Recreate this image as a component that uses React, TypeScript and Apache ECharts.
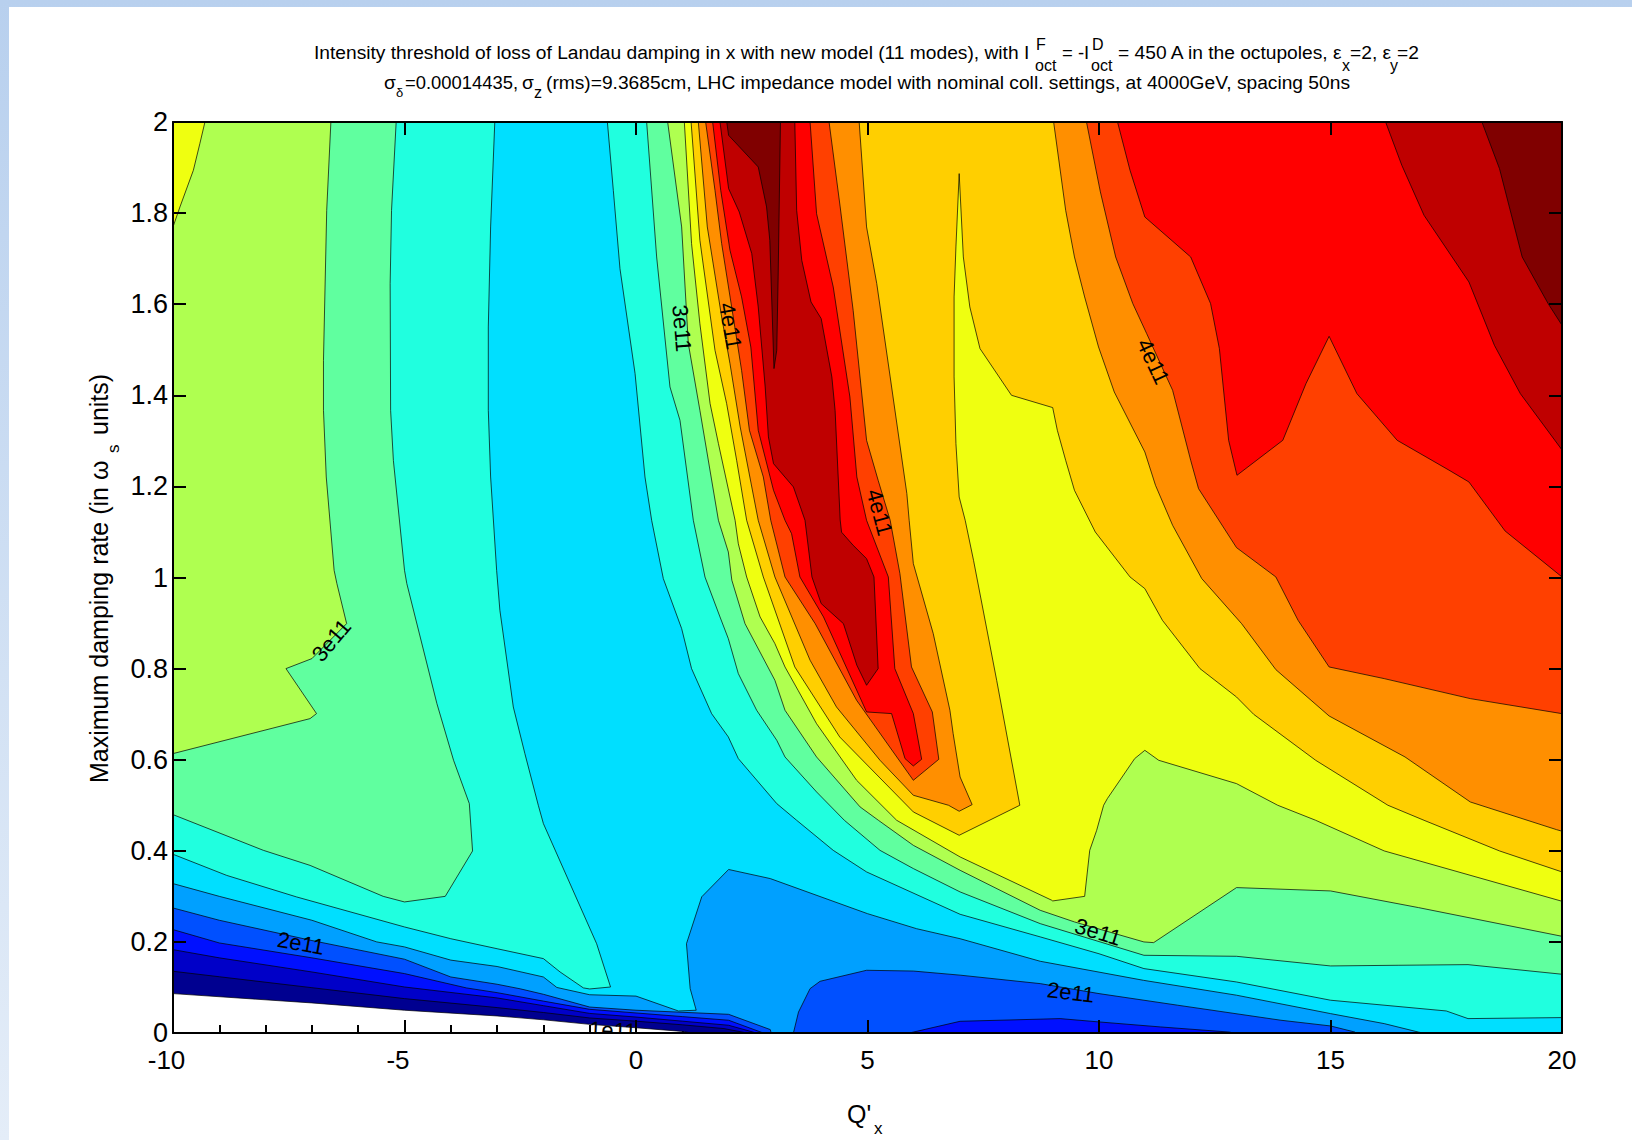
import React, { useEffect, useRef } from "react";
import * as echarts from "echarts";

// Contour outlines in data units [Q'x, maximum damping rate]; "level" = region at or above that contour.
const level01 = [[-10,.0865],[-7,.066],[-5,.05],[-3,.0374],[-2,.029],[-1,.019],[0,.0115],[1,.0035],[1.2,0],[20,0],[20,2],[-10,2]];
const level02 = [[-10,.1355],[-9,.1235],[-7,.0995],[-5,.0755],[-3,.0558],[-2,.045],[-1,.033],[0,.026],[1,.018],[1.9,.0097],[2.4,0],[20,0],[20,2],[-10,2]];
const level03 = [[-10,.183],[-9,.165],[-7,.134],[-5,.101],[-3,.077],[-2,.06],[-1,.043],[0,.035],[1,.026],[2,.017],[2.6,0],[20,0],[20,2],[-10,2]];
const level04 = [[-10,.227],[-9,.1977],[-7,.165],[-5,.1304],[-3.66,.0989],[-3,.0886],[-2,.07],[-1,.052],[0,.044],[1,.036],[2,.028],[2.75,0],[5.9,0],[5.99,.002],[7,.0257],[9.16,.0316],[10,.0243],[11.33,.0133],[12.82,.002],[12.9,0],[20,0],[20,2],[-10,2]];
const level05 = [[-10,.2745],[-9,.2475],[-7,.203],[-5,.162],[-4,.123],[-3,.107],[-2.5,.097],[-2,.085],[-1,.057],[0,.05],[2,.041],[2.9,.0075],[2.92,0],[3.4,0],[3.51,.046],[3.76,.0974],[3.975,.1135],[4.98,.1377],[5.99,.136],[7,.127],[8.73,.1084],[10,.0865],[11.7,.061],[13.93,.028],[15,.0155],[15.53,.002],[15.55,0],[20,0],[20,2],[-10,2]];
const level06 = [[-10,.328],[-9,.30],[-7,.2475],[-5.6,.2],[-5,.189],[-4,.16],[-3,.146],[-2,.123],[-1.71,.1],[-1,.084],[0,.081],[.915,.0484],[1.3,.05],[1.17,.0974],[1.09,.196],[1.42,.299],[2,.359],[2.9,.339],[5,.262],[6.06,.229],[7,.207],[8.73,.1575],[10.96,.1157],[12.97,.083],[15,.0426],[16.16,.0206],[16.9,.002],[17,0],[20,0],[20,2],[-10,2]];
const level07Left = [[-10,.3924],[-8.84,.346],[-7.33,.2987],[-5,.2328],[-4,.207],[-3,.185],[-2,.1633],[-1.64,.134],[-1.137,.099],[-1,.0967],[-.55,.101],[-.85,.196],[-2,.4597],[-2.11,.4999],[-2.4,.6134],[-2.65,.7158],[-2.94,.928],[-3.01,1.0158],[-3.14,1.2207],[-3.19,1.367],[-3.19,1.55],[-3.14,1.7696],[-3.05,2],[-10,2]];
const level07Right = [[-.618,2],[-.49,1.85],[-.346,1.678],[-.02,1.4476],[.194,1.2207],[.338,1.1256],[.59,.9975],[.986,.8878],[1.2,.8],[1.634,.701],[1.994,.65],[2.21,.6024],[3.04,.5036],[3.47,.467],[4.26,.401],[4.98,.3536],[7,.2606],[8.73,.211],[10,.174],[10.97,.1414],[12.97,.112],[15,.072],[17.5,.0484],[17.97,.0316],[20,.0338],[20,2]];
const level08Left = [[-10,.4794],[-8.05,.4011],[-7.04,.368],[-5.46,.3],[-5,.2877],[-4.12,.3],[-3.53,.3996],[-3.6,.5036],[-3.94,.5987],[-4.3,.7231],[-4.95,.9866],[-5,1.0158],[-5.24,1.257],[-5.3,1.367],[-5.31,1.645],[-5.28,1.806],[-5.18,2],[-10,2]];
const level08Right = [[.23,2],[.446,1.7037],[.734,1.4183],[.95,1.345],[1.238,1.1256],[1.49,1.001],[1.814,.9134],[1.994,.8658],[2.21,.789],[2.606,.7085],[3.04,.6426],[3.218,.606],[3.9,.5292],[4.5,.467],[5.27,.401],[5.99,.361],[7,.3097],[8.73,.2401],[10.97,.1706],[12.97,.1684],[15,.1472],[16.46,.1487],[17.97,.1501],[20,.129],[20,2]];
const level09Left = [[-10,.6134],[-7.04,.6902],[-6.9,.7012],[-7.56,.8],[-7,.8219],[-6.25,.8988],[-6.46,.9866],[-6.52,1.0158],[-6.69,1.2207],[-6.75,1.367],[-6.75,1.4768],[-6.68,1.806],[-6.59,2],[-10,2]];
const level09Right = [[.684,2],[.986,1.7696],[1.13,1.5134],[1.38,1.367],[1.78,1.1256],[1.994,1.056],[2.07,.994],[2.354,.8987],[3,.7743],[3.218,.7085],[3.9,.606],[4.84,.4963],[5.235,.467],[5.99,.412],[7,.3572],[8.73,.2694],[9.47,.2438],[10.97,.1999],[11.18,.1984],[12.97,.3192],[15,.3119],[16.9,.2753],[20,.2123],[20,2]];
const level10Corner = [[-10,1.7696],[-9.85,1.8135],[-9.56,1.894],[-9.42,1.9525],[-9.31,2],[-10,2]];
const level10Right = [[1.044,2],[1.2,1.733],[1.38,1.557],[1.6,1.3817],[1.78,1.294],[2.14,1.1256],[2.21,1.074],[2.39,1.001],[2.68,.9134],[3,.8548],[3.218,.8036],[3.5,.7524],[3.9,.679],[4.765,.5548],[5.63,.467],[7,.3865],[8.98,.2914],[9,.2899],[9.69,.3],[9.8,.4011],[9.95,.445],[10.1,.5],[10.18,.5145],[10.77,.6023],[10.99,.6206],[11.29,.5987],[12.97,.5475],[13.86,.5],[14.68,.467],[16.16,.3997],[20,.2892],[20,2]];
const level11 = [[1.19,2],[1.38,1.7403],[1.706,1.4988],[1.958,1.3817],[2.174,1.2573],[2.39,1.1256],[2.75,1.0012],[3.43,.8036],[4.4,.6499],[5.99,.4853],[6.98,.4341],[8.29,.5],[7.79,.7743],[7.29,1.0378],[7.11,1.1256],[6.98,1.1768],[6.91,1.294],[6.87,1.4403],[6.87,1.6159],[6.91,1.7257],[6.98,1.8867],[7.07,1.7037],[7.21,1.594],[7.43,1.5025],[8.11,1.4],[9,1.373],[9.1,1.3232],[9.28,1.2573],[9.47,1.1914],[9.92,1.0999],[10.67,1.0012],[10.99,.9756],[11.37,.906],[12.18,.8],[12.97,.7377],[13.34,.6997],[14.68,.5987],[16.24,.5],[17.02,.467],[18.65,.3997],[20,.3536],[20,2]];
const level12Center = [[1.346,2],[1.54,1.7696],[1.85,1.572],[2.03,1.4695],[2.25,1.3305],[2.64,1.1256],[3,1.0012],[3.76,.8183],[4.33,.7158],[5.27,.5987],[5.99,.5219],[6.75,.5],[6.98,.4868],[7.26,.5014],[7,.562],[6.85,.6572],[6.78,.7085],[6.42,.8768],[5.99,1.0305],[5.9,1.1256],[5.85,1.1841],[5.49,1.4403],[5.2,1.6452],[4.98,1.7696],[4.82,2]];
const level12Right = [[9.02,2],[9.28,1.8062],[9.47,1.7037],[9.69,1.6159],[9.99,1.5061],[10.33,1.4073],[10.99,1.2756],[11.22,1.2024],[11.59,1.1146],[12.22,.9975],[13.08,.8987],[13.82,.7977],[14.97,.696],[16.61,.606],[18.02,.5072],[19.88,.4465],[20,.443],[20,2]];
const level13Center = [[1.504,2],[1.706,1.85],[1.85,1.733],[2.1,1.572],[2.28,1.4549],[2.45,1.3232],[2.75,1.2207],[2.91,1.1256],[3.218,1.0012],[3.87,.8987],[4.765,.7304],[5.99,.5548],[6.54,.6009],[6.4,.7048],[5.95,.8036],[5.7,1.0085],[5.49,1.1256],[5.23,1.2134],[4.98,1.3012],[4.69,1.5866],[4.41,1.8135],[4.17,2]];
const level13Right = [[9.73,2],[10.03,1.8464],[10.36,1.7037],[10.73,1.6013],[11.03,1.5354],[11.59,1.411],[11.98,1.2573],[12.15,1.1951],[12.97,1.0656],[13.82,1.0012],[14.3,.906],[14.97,.8036],[16.16,.778],[18.02,.7341],[20,.7011],[20,2]];
const level14Center = [[1.655,2],[1.83,1.85],[2.03,1.7183],[2.28,1.616],[2.48,1.5061],[2.64,1.3232],[2.97,1.1915],[3.218,1.1256],[3.36,1.0963],[3.54,1.0012],[4.05,.9134],[4.98,.7048],[5.52,.7012],[5.81,.6024],[5.99,.5863],[6.17,.6009],[5.99,.7012],[5.59,.8],[5.45,1.0012],[4.98,1.1256],[4.77,1.2207],[4.62,1.3963],[4.26,1.6378],[3.9,1.7988],[3.76,2]];
const level14Right = [[10.4,2],[10.67,1.894],[10.99,1.7915],[11.98,1.7037],[12.41,1.6013],[12.6,1.5025],[12.8,1.3012],[12.98,1.2244],[13.97,1.3012],[14.47,1.4256],[14.97,1.5295],[15.57,1.4037],[16.44,1.3012],[17.54,1.2368],[17.99,1.2097],[18.77,1.1022],[20,1.0012],[20,2]];
const level15Center = [[1.814,2],[2,1.8537],[2.23,1.8025],[2.5,1.711],[2.64,1.5939],[2.79,1.4183],[2.86,1.3086],[2.97,1.25],[3.4,1.1988],[3.65,1.1256],[3.8,1.0012],[4,.9427],[4.48,.8987],[4.77,.8073],[4.98,.7634],[5.23,.8],[5.14,1.0012],[4.98,1.0414],[4.69,1.0707],[4.44,1.0995],[4.41,1.1263],[4.3,1.367],[4.23,1.4403],[4,1.5683],[3.78,1.6049],[3.58,1.6964],[3.47,1.8062],[3.43,2]];
const level15Right = [[16.19,2],[16.54,1.905],[17.02,1.7952],[17.99,1.6488],[18.54,1.5098],[19.1,1.4037],[20,1.28],[20,2]];
const level16Center = [[1.96,2],[2,1.9708],[2.64,1.9013],[2.82,1.8135],[2.89,1.7403],[2.98,1.4586],[3.04,1.4988],[3.07,1.6598],[3.12,2]];
const level16Right = [[18.27,2],[18.65,1.8976],[19.14,1.7037],[19.7,1.6013],[20,1.5537],[20,2]];

const levelColors = ["#000090","#0000c8","#0010ff","#0050ff","#00a0ff","#00dfff","#20ffdf","#60ff9f","#afff50","#efff10","#ffcf00","#ff8f00","#ff4000","#ff0000","#bf0000","#800000"];
const regions: [number[][], number][] = [
  [level01,0],[level02,1],[level03,2],[level04,3],[level05,4],[level06,5],
  [level07Left,6],[level07Right,6],[level08Left,7],[level08Right,7],
  [level09Left,8],[level09Right,8],[level10Corner,9],[level10Right,9],[level11,10],
  [level12Center,11],[level12Right,11],[level13Center,12],[level13Right,12],
  [level14Center,13],[level14Right,13],[level15Center,14],[level15Right,14],
  [level16Center,15],[level16Right,15],
];

const contourLabels = ["3e11","2e11","3e11","4e11","4e11","4e11","3e11","2e11","1e11"];
const labelQ = [-6.58,-7.24,.99,2.04,5.26,11.17,9.98,9.39,-.5];
const labelRate = [.862,.197,1.547,1.552,1.143,1.474,.222,.089,.006];
const labelAngle = [50,-10,-85,-80,-75,-65,-17,-7,-3];

const FONT = "Liberation Sans";
const txt = (text: string, x: number, y: number, fontSize: number, rotation = 0) => ({
  type: "text", x, y, rotation, z: 100, silent: true,
  style: { text, fontSize, fontFamily: FONT, fill: "#000", align: "left", verticalAlign: "middle" },
});

export default function App() {
  const ref = useRef<HTMLDivElement>(null);
  useEffect(() => {
    const chart = echarts.init(ref.current!, undefined, { renderer: "svg" });
    const common = { type: "value", min: -10, max: 20, interval: 5 };
    const commonY = { type: "value", min: 0, max: 2, interval: 0.2, z: 10, splitLine: { show: false } };
    const line = { show: true, onZero: false, lineStyle: { color: "#000", width: 2 } };
    const tick = { show: true, inside: true, length: 13, lineStyle: { color: "#000", width: 2 } };
    chart.setOption({
      animation: false,
      backgroundColor: "transparent",
      grid: { left: 173, top: 122, width: 1389, height: 911, containLabel: false },
      xAxis: [
        { ...common, position: "bottom", z: 0, axisLine: { show: false, onZero: false }, axisTick: { show: false, inside: true }, axisLabel: { show: false }, splitLine: { show: false },
          minorTick: { show: true, splitNumber: 5, length: 8, lineStyle: { color: "#000", width: 2 } } },
        { ...common, position: "bottom", z: 10, axisLine: line, axisTick: tick, splitLine: { show: false },
          axisLabel: {
            show: true, margin: 14, fontSize: 26, fontFamily: FONT, color: "#000", hideOverlap: false, showMinLabel: true, showMaxLabel: true,
            formatter: (v: number) => (v < 0 ? `{neg|${v}}` : `${v}`),
            rich: { neg: { fontSize: 26, fontFamily: FONT, color: "#000", padding: [0, 13, 0, 0] } },
          } },
        { ...common, position: "top", z: 10, axisLine: line, axisTick: tick, axisLabel: { show: false }, splitLine: { show: false } },
      ],
      yAxis: [
        { ...commonY, position: "left", axisLine: line, axisTick: tick,
          axisLabel: { show: true, margin: 5, fontSize: 27, fontFamily: FONT, color: "#000", showMinLabel: true, showMaxLabel: true } },
        { ...commonY, position: "right", axisLine: line, axisTick: tick, axisLabel: { show: false } },
      ],
      series: [
        {
          type: "custom", xAxisIndex: 0, yAxisIndex: 0, z: 2, clip: true, silent: true,
          data: regions.map((_, i) => [i]),
          renderItem: (_: any, api: any) => {
            const [pts, c] = regions[api.value(0)];
            return {
              type: "polygon",
              shape: { points: pts.map((p) => api.coord(p)) },
              style: { fill: levelColors[c], stroke: "#000", lineWidth: 0.7 },
            };
          },
        },
        {
          type: "custom", xAxisIndex: 0, yAxisIndex: 0, z: 3, clip: true, silent: true,
          data: contourLabels.map((_, i) => [labelQ[i], labelRate[i], i]),
          renderItem: (_: any, api: any) => {
            const i = api.value(2);
            const [x, y] = api.coord([labelQ[i], labelRate[i]]);
            return {
              type: "text", x, y, rotation: (labelAngle[i] * Math.PI) / 180,
              style: { text: contourLabels[i], fontSize: 22, fontFamily: FONT, fill: "#000", align: "center", verticalAlign: "middle" },
            };
          },
        },
      ],
      graphic: {
        elements: [
          txt("Intensity threshold of loss of Landau damping in x with new model (11 modes), with I", 314, 52.5, 19.2),
          txt("F", 1036, 44, 16), txt("oct", 1035, 65, 16),
          txt("= -I", 1062, 52.5, 18.5),
          txt("D", 1092, 44, 16), txt("oct", 1091, 65, 16),
          txt("= 450 A in the octupoles, ε", 1118, 52.5, 19.2),
          txt("x", 1342, 65, 16), txt("=2, ε", 1350, 52.5, 19.2),
          txt("y", 1390, 65, 16), txt("=2", 1397, 52.5, 19.2),
          txt("σ", 384, 82, 19.2), txt("δ", 396, 92, 13),
          txt("=0.00014435,", 405, 82, 18.4), txt("σ", 522, 82, 19.2), txt("z", 534, 92, 16),
          txt("(rms)=9.3685cm, LHC impedance model with nominal coll. settings, at 4000GeV, spacing 50ns", 546, 82, 19.2),
          txt("Maximum damping rate (in ω", 99, 783, 25, Math.PI / 2),
          txt("s", 113, 453, 17, Math.PI / 2),
          txt("units)", 99, 435, 25, Math.PI / 2),
          txt("Q'", 847, 1114, 25),
          txt("x", 874, 1128, 17),
        ],
      },
    });
    return () => chart.dispose();
  }, []);
  return (
    <div style={{ position: "absolute", left: 0, top: 0, width: 1632, height: 1140, overflow: "hidden", background: "linear-gradient(#b8d0ee, #e4edf8)" }}>
      <div style={{ position: "absolute", left: 9, top: 7, right: 0, bottom: 0, background: "#fff" }} />
      <div ref={ref} style={{ position: "absolute", left: 0, top: 0, width: 1632, height: 1140 }} />
    </div>
  );
}
